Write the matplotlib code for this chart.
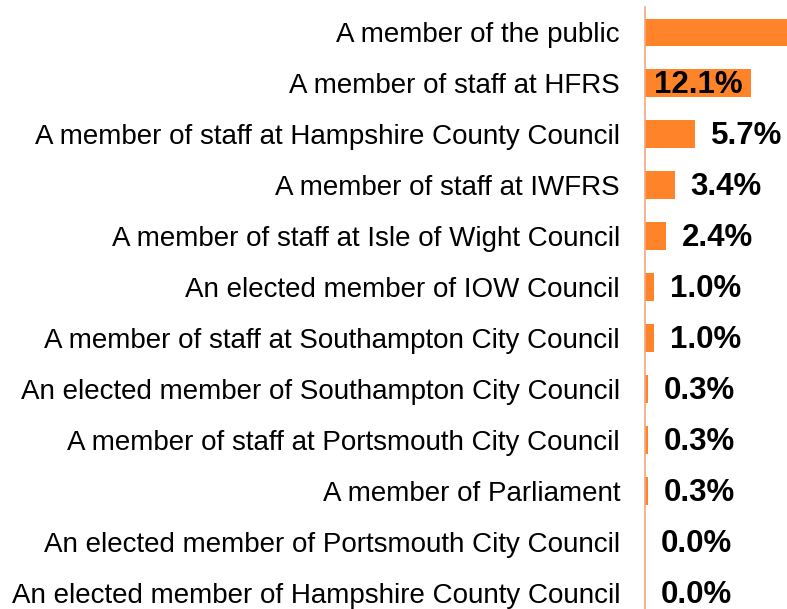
import matplotlib
matplotlib.use('Agg')
import matplotlib.pyplot as plt

# respondent groups, top to bottom as shown
groups = [
    'A member of the public',
    'A member of staff at HFRS',
    'A member of staff at Hampshire County Council',
    'A member of staff at IWFRS',
    'A member of staff at Isle of Wight Council',
    'An elected member of IOW Council',
    'A member of staff at Southampton City Council',
    'An elected member of Southampton City Council',
    'A member of staff at Portsmouth City Council',
    'A member of Parliament',
    'An elected member of Portsmouth City Council',
    'An elected member of Hampshire County Council',
]
# share of responses in percent (public bar runs off the right edge)
shares = [73.5, 12.1, 5.7, 3.4, 2.4, 1.0, 1.0, 0.3, 0.3, 0.3, 0.0, 0.0]

plt.rcParams['font.family'] = ['Liberation Sans', 'DejaVu Sans']

fig = plt.figure(figsize=(7.87, 6.09), dpi=100)
ax = fig.add_axes([0.8196, -0.0156, 0.1804, 1.0049])

pos = list(range(len(groups)))
ax.barh(pos, shares, height=0.53, color='#FF8329')
ax.set_ylim(len(groups) - 0.5, -0.5)
ax.set_xlim(0, 16.2)

for p, v in zip(pos, shares):
    if v > 20:
        continue  # label lies outside the visible area
    x = 1.0 if v > 10 else v + 1.8
    ax.text(x, p + 0.03, '%.1f%%' % v, ha='left', va='center',
            fontsize=22.5, fontweight='bold', color='black')

ax.set_yticks(pos)
ax.set_yticklabels(groups, fontsize=20)
ax.tick_params(axis='y', length=0, pad=18)
ax.set_xticks([])
for side in ['top', 'right', 'bottom']:
    ax.spines[side].set_visible(False)
ax.spines['left'].set_color('#F4A582')
ax.spines['left'].set_linewidth(1.2)

fig.savefig('out.png', dpi=100)
